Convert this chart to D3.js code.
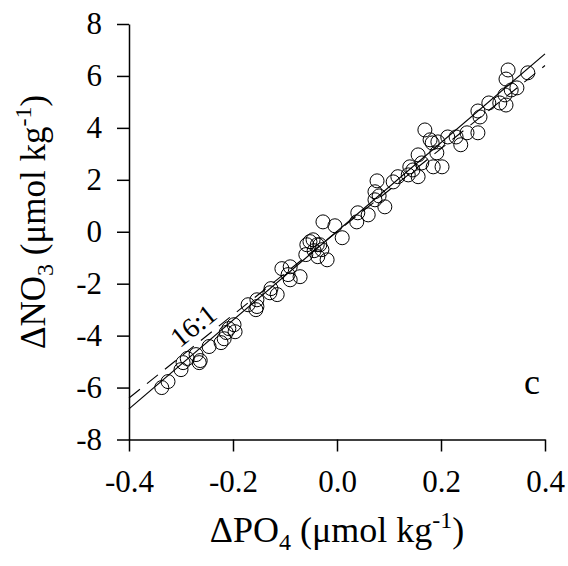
<!DOCTYPE html>
<html>
<head>
<meta charset="utf-8">
<script src="https://cdn.jsdelivr.net/npm/d3@7"></script>
<style>
  body { margin: 0; background: #fff; }
  text { font-family: "Liberation Serif", "Times New Roman", serif; fill: #000; }
</style>
</head>
<body>
<script>
// chart size
const width = 568,
  height = 566;
const margin = { top: 24, right: 23, bottom: 126.5, left: 129 };
const innerWidth = width - margin.left - margin.right;
const innerHeight = height - margin.top - margin.bottom;

// data
const dPO4 = [
  -0.337, -0.325, -0.300, -0.296, -0.288, -0.271, -0.265, -0.263, -0.246, -0.223,
  -0.217, -0.208, -0.198, -0.196, -0.213, -0.171, -0.154, -0.154, -0.156, -0.127,
  -0.115, -0.129, -0.106, -0.090, -0.090, -0.071, -0.094, -0.058, -0.052, -0.038,
  -0.060, -0.037, -0.019, -0.029, -0.046, -0.027, -0.004, 0.010, -0.033, -0.044,
  0.038, 0.040, 0.060, 0.073, 0.073, 0.077, 0.092, 0.081, 0.108, 0.117,
  0.137, 0.140, 0.156, 0.156, 0.163, 0.185, 0.202, 0.169, 0.183, 0.192,
  0.179, 0.194, 0.146, 0.213, 0.229, 0.238, 0.250, 0.271, 0.271, 0.275,
  0.292, 0.313, 0.325, 0.323, 0.335, 0.329, 0.325, 0.346, 0.367
];
const dNO3 = [
  -6.0, -5.77, -5.31, -5.04, -4.88, -4.73, -5.04, -4.96, -4.42, -4.27,
  -4.12, -3.73, -3.58, -3.85, -3.88, -2.81, -2.88, -2.62, -3.0, -2.19,
  -2.42, -2.35, -1.42, -1.35, -1.85, -1.73, -1.65, -0.5, -0.38, -0.5,
  -0.88, -0.96, -1.08, -0.69, -0.31, 0.38, 0.23, -0.23, -0.5, -0.73,
  0.38, 0.73, 0.65, 1.23, 1.54, 1.96, 0.96, 1.38, 1.92, 2.12,
  2.19, 2.5, 2.12, 2.96, 2.65, 2.5, 2.5, 3.92, 3.42, 3.04,
  3.54, 3.46, 2.38, 3.65, 3.65, 3.35, 3.81, 3.81, 4.65, 4.42,
  4.96, 4.96, 4.88, 5.27, 5.46, 6.23, 5.88, 5.54, 6.12
];

// regression line and 16:1 line end points
const lineX = [-0.4, 0.4];
const fitY = [-6.82, 6.85];
const redfieldY = [-6.4, 6.4];

const xTicks = [-0.4, -0.2, 0.0, 0.2, 0.4];
const yTicks = [-8, -6, -4, -2, 0, 2, 4, 6, 8];

// scales
const xScale = d3.scaleLinear().domain([-0.4, 0.4]).range([0, innerWidth]);
const yScale = d3.scaleLinear().domain([-8, 8]).range([innerHeight, 0]);

const svg = d3
  .select("body")
  .append("svg")
  .attr("width", width)
  .attr("height", height);

const mainG = svg
  .append("g")
  .attr("transform", `translate(${margin.left},${margin.top})`);

// axes
const xAxis = d3
  .axisBottom(xScale)
  .tickValues(xTicks)
  .tickFormat((d) => d.toFixed(1))
  .tickSizeInner(12)
  .tickSizeOuter(0)
  .tickPadding(18);

const yAxis = d3
  .axisLeft(yScale)
  .tickValues(yTicks)
  .tickFormat((d) => String(d))
  .tickSizeInner(12)
  .tickSizeOuter(0)
  .tickPadding(15);

const gx = mainG
  .append("g")
  .attr("transform", `translate(0,${innerHeight})`)
  .call(xAxis);

const gy = mainG.append("g").call(yAxis);

[gx, gy].forEach((g) => {
  g.select(".domain").attr("stroke", "#000").attr("stroke-width", 1.5);
  g.selectAll(".tick line").attr("stroke", "#000").attr("stroke-width", 1.5);
  g.selectAll(".tick text")
    .attr("font-family", "Liberation Serif, serif")
    .attr("font-size", 31)
    .attr("fill", "#000");
});

// lines
const line = d3
  .line()
  .x((d) => xScale(d[0]))
  .y((d) => yScale(d[1]));

mainG
  .append("path")
  .datum(d3.zip(lineX, redfieldY))
  .attr("d", line)
  .attr("fill", "none")
  .attr("stroke", "#000")
  .attr("stroke-width", 1.1)
  .attr("stroke-dasharray", "14,9");

mainG
  .append("path")
  .datum(d3.zip(lineX, fitY))
  .attr("d", line)
  .attr("fill", "none")
  .attr("stroke", "#000")
  .attr("stroke-width", 1.2);

// points
mainG
  .selectAll("circle")
  .data(d3.zip(dPO4, dNO3))
  .enter()
  .append("circle")
  .attr("cx", (d) => xScale(d[0]))
  .attr("cy", (d) => yScale(d[1]))
  .attr("r", 7)
  .attr("fill", "none")
  .attr("stroke", "#000")
  .attr("stroke-width", 1);

// 16:1 label along the dashed line
const angle =
  (Math.atan2(
    yScale(redfieldY[0]) - yScale(redfieldY[1]),
    xScale(lineX[1]) - xScale(lineX[0])
  ) * 180) / Math.PI;
mainG
  .append("text")
  .attr("transform", `translate(${xScale(-0.265)},${yScale(-3.9)}) rotate(${-angle})`)
  .attr("text-anchor", "middle")
  .attr("font-size", 28)
  .text("16:1");

// panel letter
mainG
  .append("text")
  .attr("x", xScale(0.375))
  .attr("y", yScale(-6.25))
  .attr("text-anchor", "middle")
  .attr("font-size", 36)
  .text("c");

// x title
const xt = svg
  .append("text")
  .attr("x", margin.left + innerWidth / 2)
  .attr("y", 542)
  .attr("text-anchor", "middle")
  .attr("font-size", 36);
xt.append("tspan").text("\u0394PO");
xt.append("tspan").attr("font-size", 24).attr("dy", 8).text("4");
xt.append("tspan").attr("dy", -8).text(" (\u03bcmol kg");
xt.append("tspan").attr("font-size", 24).attr("dy", -14).text("-1");
xt.append("tspan").attr("dy", 14).text(")");

// y title
const yt = svg
  .append("text")
  .attr("transform", "translate(45,222) rotate(-90)")
  .attr("text-anchor", "middle")
  .attr("font-size", 35);
yt.append("tspan").text("\u0394NO");
yt.append("tspan").attr("font-size", 24).attr("dy", 8).text("3");
yt.append("tspan").attr("dy", -8).text(" (\u03bcmol kg");
yt.append("tspan").attr("font-size", 24).attr("dy", -14).text("-1");
yt.append("tspan").attr("dy", 14).text(")");
</script>
</body>
</html>
